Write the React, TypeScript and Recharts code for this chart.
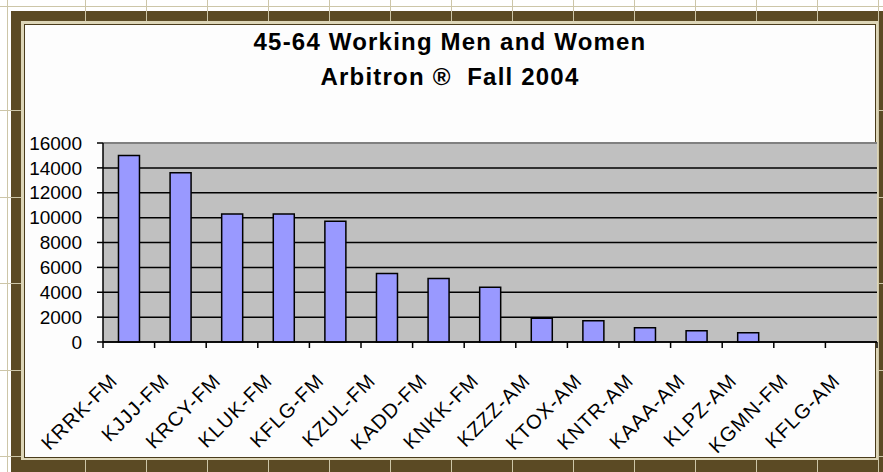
import { BarChart, Bar, XAxis, YAxis, CartesianGrid, ReferenceLine } from 'recharts';

const stations = [
  'KRRK-FM', 'KJJJ-FM', 'KRCY-FM', 'KLUK-FM', 'KFLG-FM', 'KZUL-FM', 'KADD-FM', 'KNKK-FM',
  'KZZZ-AM', 'KTOX-AM', 'KNTR-AM', 'KAAA-AM', 'KLPZ-AM', 'KGMN-FM', 'KFLG-AM',
];
const listeners = [15000, 13600, 10300, 10300, 9700, 5500, 5100, 4400, 1900, 1700, 1150, 900, 750, 0, 0];
const yTicks = [0, 2000, 4000, 6000, 8000, 10000, 12000, 14000, 16000];
const titleLines = ['45-64 Working Men and Women', 'Arbitron \u00AE  Fall 2004'];

const data = stations.map((name, i) => ({ name, value: listeners[i] }));

const W = 883;
const H = 472;
const PLOT_LEFT = 103;
const PLOT_RIGHT = 877;
const BAND = (PLOT_RIGHT - PLOT_LEFT) / stations.length;
const FONT = "'Liberation Sans', Arial, sans-serif";
const BROWN = '#5b4a24';
const GRIDLINE = '#cdc6a8';

// Excel-style tick: mark sits between categories, label rotated 45°
function StationTick(props: any) {
  const { x, y, payload, index } = props;
  const left = x - BAND / 2;
  return (
    <g>
      <line x1={left} y1={y} x2={left} y2={y + 6} stroke="#000" strokeWidth={1.5} />
      {index === stations.length - 1 && (
        <line x1={left + BAND} y1={y} x2={left + BAND} y2={y + 6} stroke="#000" strokeWidth={1.5} />
      )}
      <text
        transform={`translate(${x - 10},${y + 40}) rotate(-45)`}
        textAnchor="end"
        fontSize={20}
        letterSpacing={1}
        fontFamily={FONT}
        fill="#000"
      >
        {payload.value}
      </text>
    </g>
  );
}

export default function App() {
  const vLines = Array.from({ length: 14 }, (_, k) => 85 + 61 * k);
  const hLines = Array.from({ length: 5 }, (_, k) => 110 + 86.5 * k);

  return (
    <div style={{ position: 'absolute', left: 0, top: 0, width: W, height: H, background: '#fff', overflow: 'hidden' }}>
      {/* frame + sheet gridlines */}
      <div style={{ position: 'absolute', left: 11, top: 11, right: 0, bottom: 0, background: BROWN }} />
      <div style={{ position: 'absolute', left: 0, top: 6, width: W, height: 1, background: GRIDLINE }} />
      <div style={{ position: 'absolute', left: 7, top: 0, width: 1, height: H, background: GRIDLINE }} />
      {vLines.map(x => (
        <div key={'v' + x} style={{ position: 'absolute', left: x, top: 0, width: 1, height: H, background: GRIDLINE }} />
      ))}
      {hLines.map(y => (
        <div key={'h' + y} style={{ position: 'absolute', left: 0, top: Math.round(y), width: W, height: 1, background: GRIDLINE }} />
      ))}
      <div style={{ position: 'absolute', left: 21, top: 21, width: 857, height: 439, background: '#ddd6b8' }} />
      <div
        style={{
          position: 'absolute', left: 24, top: 24, width: 852, height: 434,
          boxSizing: 'border-box', border: '1px solid #4a3c1c', background: '#fdfdfd',
        }}
      />

      <div
        style={{
          position: 'absolute', left: 25, top: 24, width: 850, textAlign: 'center',
          fontFamily: FONT, fontWeight: 'bold', fontSize: 24, lineHeight: '35px',
          letterSpacing: 1.2, color: '#000',
        }}
      >
        {titleLines.map(t => (
          <div key={t} style={{ whiteSpace: 'pre' }}>{t}</div>
        ))}
      </div>

      <div style={{ position: 'absolute', left: 0, top: 0 }}>
        <BarChart
          width={W}
          height={H}
          data={data}
          margin={{ top: 143, right: W - PLOT_RIGHT, left: 0, bottom: 0 }}
          barCategoryGap="30%"
        >
          <CartesianGrid vertical={false} stroke="#000" strokeWidth={1.5} fill="#c0c0c0" fillOpacity={1} />
          <ReferenceLine y={16000} stroke="#808080" strokeWidth={2} />
          <XAxis
            dataKey="name"
            height={H - 342}
            interval={0}
            tickLine={false}
            tickSize={0}
            tickMargin={0}
            axisLine={{ stroke: '#000', strokeWidth: 1.5 }}
            tick={<StationTick />}
          />
          <YAxis
            width={PLOT_LEFT}
            domain={[0, 16000]}
            ticks={yTicks}
            interval={0}
            tickSize={6}
            tickMargin={15}
            axisLine={{ stroke: '#000', strokeWidth: 1.5 }}
            tickLine={{ stroke: '#000', strokeWidth: 1.5 }}
            tick={{ fontSize: 19, fontFamily: FONT, fill: '#000' }}
          />
          <Bar dataKey="value" fill="#9999ff" stroke="#000" strokeWidth={1.5} isAnimationActive={false} />
        </BarChart>
      </div>
    </div>
  );
}
